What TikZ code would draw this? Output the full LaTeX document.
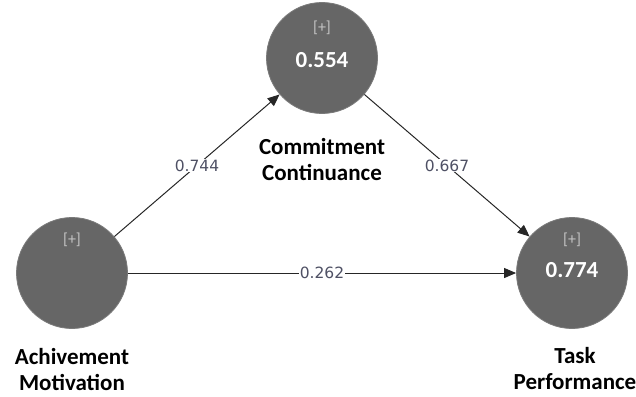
\documentclass[tikz,border=0pt]{standalone}
\usepackage{fontspec}
\setmainfont{Carlito}
\newfontfamily\weightfont{DejaVu Sans}
\usetikzlibrary{arrows.meta}
\definecolor{lvgray}{HTML}{666666}
\definecolor{lvedge}{HTML}{7A7A7A}
\definecolor{plusgray}{HTML}{C4C4C4}
\definecolor{weightblue}{HTML}{4E5064}

\begin{document}
\begin{tikzpicture}[x=1pt, y=-1pt,
	latent/.style = {circle, fill=lvgray, draw=lvedge, line width=0.8pt, minimum size=111pt, inner sep=0pt},
	plussign/.style = {text=plusgray, font=\fontsize{16}{18}\selectfont, inner sep=0pt},
	rsq/.style = {text=white, font=\fontsize{23}{25}\selectfont\bfseries, inner sep=0pt},
	lvlabel/.style = {align=center, font=\fontsize{23}{26}\selectfont\bfseries, inner sep=0pt},
	weight/.style = {fill=white, text=weightblue, font=\weightfont\fontsize{15.5}{17}\selectfont, inner sep=1pt},
	pathline/.style = {draw=black!85, line width=1pt, -{Triangle[length=12pt,width=10pt]}}]
	\useasboundingbox (0,0) rectangle (636,396);
	% constructs
	\node[latent] (am) at (72,273) {};
	\node[latent] (cc) at (322,58) {};
	\node[latent] (tp) at (572,273) {};
	\node[plussign] (amplus) at (72,240) {[+]};
	\node[plussign] (ccplus) at (322,28) {[+]};
	\node[plussign] (tpplus) at (572,240) {[+]};
	\node[rsq] (ccrsq) at (322,60) {0.554};
	\node[rsq] (tprsq) at (572,270) {0.774};
	\node[lvlabel] (amlabel) at (72,370) {Achivement\\Motivation};
	\node[lvlabel] (cclabel) at (322,160) {Commitment\\Continuance};
	\node[lvlabel] (tplabel) at (575,369) {Task\\Performance};
	% paths
	\draw[pathline] (am) -- node[weight] {0.744} (cc);
	\draw[pathline] (cc) -- node[weight] {0.667} (tp);
	\draw[pathline] (am) -- node[weight] {0.262} (tp);
\end{tikzpicture}
\end{document}
